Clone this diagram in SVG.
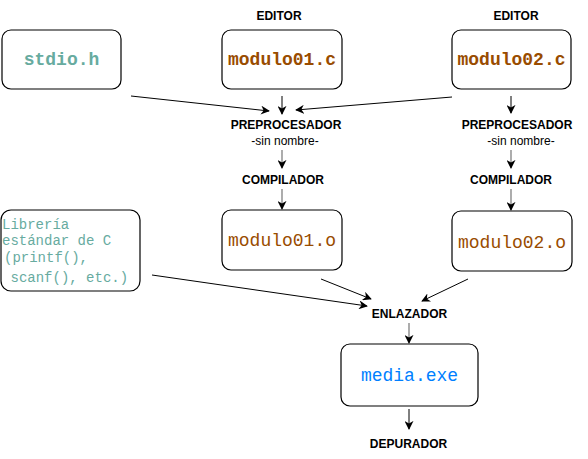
<svg xmlns="http://www.w3.org/2000/svg" width="588" height="459" viewBox="0 0 588 459">
<style>
.box{fill:#fff;stroke:#000;stroke-width:1.2}
.lbl{font-family:"Liberation Sans",Arial,sans-serif;font-size:12px;font-weight:bold;fill:#000;text-anchor:middle}
.sub{font-family:"Liberation Sans",Arial,sans-serif;font-size:12px;fill:#000;text-anchor:middle}
.code{font-family:"Liberation Mono","Courier New",monospace;font-size:18px;text-anchor:middle}
.src{font-weight:bold;fill:#994C00}
.obj{fill:#994C00}
.teal{fill:#67AB9F}
.exe{fill:#007FFF}
.lib{font-family:"Liberation Mono","Courier New",monospace;font-size:14px;fill:#67AB9F}
.e{fill:none;stroke:#000;stroke-width:1;marker-end:url(#ah)}
.g{fill:none;stroke:#808080;stroke-width:1.3;marker-end:url(#ah)}
</style>
<defs>
<marker id="ah" viewBox="0 0 10 10" refX="9" refY="5" markerWidth="9" markerHeight="9" markerUnits="userSpaceOnUse" orient="auto">
<path d="M0,0 L10,5 L0,10 L3,5 Z" fill="#000"/>
</marker>
</defs>
<rect width="588" height="459" fill="#fff"/>
<g id="connectors">
<line class="e" x1="131" y1="96" x2="269" y2="111"/>
<line class="e" x1="282" y1="96" x2="282" y2="114"/>
<line class="e" x1="452" y1="97" x2="296" y2="110"/>
<line class="g" x1="282" y1="150" x2="282" y2="168"/>
<line class="g" x1="282" y1="189" x2="282" y2="209"/>
<line class="e" x1="511" y1="96" x2="511" y2="113"/>
<line class="g" x1="511" y1="150" x2="511" y2="168"/>
<line class="g" x1="511" y1="189" x2="511" y2="210"/>
<line class="e" x1="152" y1="275" x2="367" y2="306"/>
<line class="e" x1="321" y1="279" x2="371" y2="299"/>
<line class="e" x1="468" y1="279" x2="422" y2="301"/>
<line class="g" x1="409" y1="323" x2="409" y2="343"/>
<line class="e" x1="409" y1="409" x2="409" y2="429"/>
</g>
<g id="stdio">
<rect class="box" x="2" y="30" width="119" height="59" rx="9"/>
<text class="code src teal" x="61.5" y="65">stdio.h</text>
</g>
<g id="editor1"><text class="lbl" x="279" y="20">EDITOR</text></g>
<g id="modulo01c">
<rect class="box" x="222" y="30" width="120" height="59" rx="9"/>
<text class="code src" x="282" y="65">modulo01.c</text>
</g>
<g id="editor2"><text class="lbl" x="516" y="20">EDITOR</text></g>
<g id="modulo02c">
<rect class="box" x="452" y="30" width="119" height="59" rx="9"/>
<text class="code src" x="511.5" y="65">modulo02.c</text>
</g>
<g id="prep1">
<text class="lbl" x="286" y="129">PREPROCESADOR</text>
<text class="sub" x="285" y="145">-sin nombre-</text>
</g>
<g id="prep2">
<text class="lbl" x="517" y="129">PREPROCESADOR</text>
<text class="sub" x="521" y="145">-sin nombre-</text>
</g>
<g id="comp1"><text class="lbl" x="283" y="184">COMPILADOR</text></g>
<g id="comp2"><text class="lbl" x="511" y="184">COMPILADOR</text></g>
<g id="libreria">
<rect class="box" x="1" y="210" width="139" height="81" rx="10"/>
<text class="lib" x="2" y="229">Librería</text>
<text class="lib" x="2" y="245">estándar de C</text>
<text class="lib" x="4" y="262">(printf(),</text>
<text class="lib" x="10.5" y="282">scanf(), etc.)</text>
</g>
<g id="modulo01o">
<rect class="box" x="222" y="210" width="120" height="60" rx="9"/>
<text class="code obj" x="282" y="246">modulo01.o</text>
</g>
<g id="modulo02o">
<rect class="box" x="452" y="211" width="120" height="60" rx="9"/>
<text class="code obj" x="512" y="248">modulo02.o</text>
</g>
<g id="enlazador"><text class="lbl" x="409.5" y="318">ENLAZADOR</text></g>
<g id="media">
<rect class="box" x="341" y="344" width="137" height="62" rx="9"/>
<text class="code exe" x="409.5" y="381">media.exe</text>
</g>
<g id="depurador"><text class="lbl" x="408.5" y="448">DEPURADOR</text></g>
</svg>
